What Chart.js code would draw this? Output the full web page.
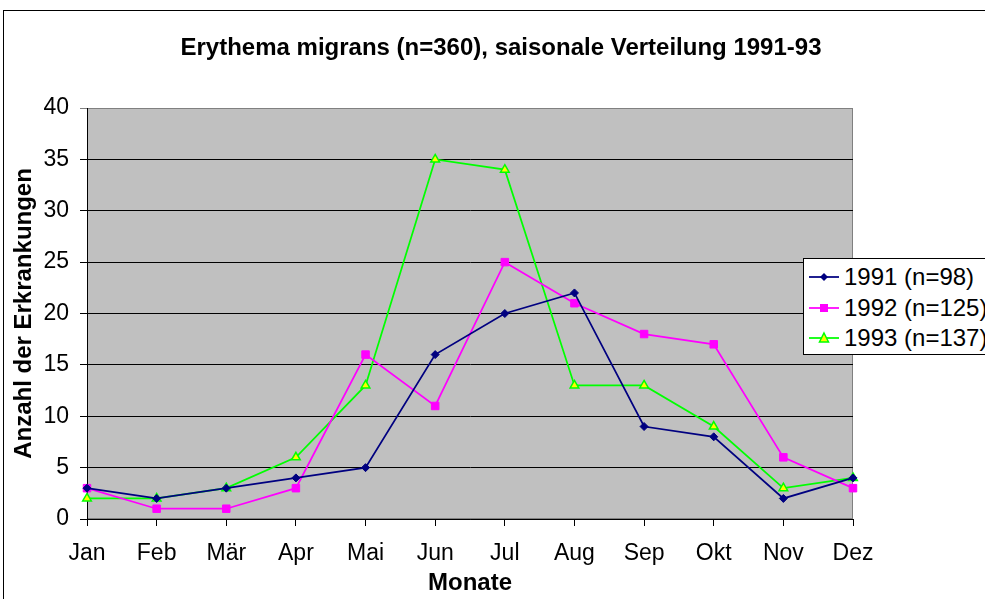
<!DOCTYPE html>
<html>
<head>
<meta charset="utf-8">
<script src="https://cdn.jsdelivr.net/npm/chart.js@4/dist/chart.umd.min.js"></script>
<style>
  html, body { margin: 0; padding: 0; background: #fff; overflow: hidden; }
  #wrap { position: relative; width: 985px; height: 599px; }
  #frame { position: absolute; left: 3px; top: 10px; width: 1000px; height: 600px; border: 1px solid #000; pointer-events: none; }
  #legend { position: absolute; left: 803px; top: 258px; width: 200px; height: 95px; border: 1px solid #000; background: #fff;
            font-family: 'Liberation Sans', Arial, sans-serif; font-size: 24px; color: #000; }
  .lg-row { position: absolute; left: 5px; height: 24px; line-height: 24px; display: flex; align-items: center; white-space: nowrap; }
  .lg-row svg { margin-right: 5px; }
</style>
</head>
<body>
<div id="wrap">
  <canvas id="chart" width="985" height="599"></canvas>
  <div id="frame"></div>
  <div id="legend"></div>
</div>
<script>
/* Erythema migrans – monthly counts 1991-93 */
const MONTHS = ['Jan', 'Feb', 'Mär', 'Apr', 'Mai', 'Jun', 'Jul', 'Aug', 'Sep', 'Okt', 'Nov', 'Dez'];
const SERIES_NAMES = ['1991 (n=98)', '1992 (n=125)', '1993 (n=137)'];
const Y1991 = [3, 2, 3, 4, 5, 16, 20, 22, 9, 8, 2, 4];
const Y1992 = [3, 1, 1, 3, 16, 11, 25, 21, 18, 17, 6, 3];
const Y1993 = [2, 2, 3, 6, 13, 35, 34, 13, 13, 9, 3, 4];
const Y_TICKS = [0, 5, 10, 15, 20, 25, 30, 35, 40];

const FONT = "'Liberation Sans', Arial, sans-serif";

/* plot area background + grey frame, like the old Excel look */
const plotBg = {
  id: 'plotBg',
  afterLayout(chart) {
    // title in the original is centred on the (cropped) outer frame, not the canvas
    const t = chart.titleBlock;
    if (t) { t.left = 17; t.right = 985; t.width = 968; }
  },
  beforeDraw(chart) {
    const { ctx, chartArea: a } = chart;
    ctx.save();
    ctx.fillStyle = '#c0c0c0';
    ctx.fillRect(a.left, a.top, a.right - a.left, a.bottom - a.top);
    ctx.strokeStyle = '#808080';
    ctx.lineWidth = 1;
    ctx.strokeRect(a.left + 0.5, a.top + 0.5, a.right - a.left - 1, a.bottom - a.top - 1);
    ctx.restore();
  },
};

const chart = new Chart(document.getElementById('chart'), {
  type: 'line',
  data: {
    labels: MONTHS,
    datasets: [
      {
        label: SERIES_NAMES[0], data: Y1991,
        borderColor: '#000080', backgroundColor: '#000080', borderWidth: 1.75,
        pointStyle: 'rectRot', pointRadius: 4, pointBorderWidth: 1,
      },
      {
        label: SERIES_NAMES[1], data: Y1992,
        borderColor: '#ff00ff', backgroundColor: '#ff00ff', borderWidth: 1.75,
        pointStyle: 'rect', pointRadius: 5.3, pointBorderWidth: 1,
      },
      {
        label: SERIES_NAMES[2], data: Y1993,
        borderColor: '#00ff00', backgroundColor: '#ffff00', borderWidth: 1.75,
        pointStyle: 'triangle', pointRadius: 5, pointBorderWidth: 1.5,
      },
    ],
  },
  options: {
    responsive: false,
    animation: false,
    layout: { padding: { left: 0, right: 132, top: 0, bottom: 0 } },
    plugins: {
      legend: { display: false },
      tooltip: { enabled: false },
      title: {
        display: true,
        text: 'Erythema migrans (n=360), saisonale Verteilung 1991-93',
        color: '#000',
        font: { family: FONT, size: 24, weight: 'bold', lineHeight: 1.2 },
        padding: { top: 34, bottom: 45.2 },
      },
    },
    scales: {
      x: {
        type: 'category',
        offset: false,
        afterFit(s) { s.height = 80; },
        grid: { drawOnChartArea: false, drawTicks: true, tickLength: 7, color: '#000' },
        border: { color: '#000', width: 1 },
        ticks: { color: '#000', font: { family: FONT, size: 23 }, padding: 14, maxRotation: 0, autoSkip: false },
        title: {
          display: true, text: 'Monate', color: '#000',
          font: { family: FONT, size: 24, weight: 'bold', lineHeight: 1.2 },
          padding: { top: 0, bottom: 1 },
        },
      },
      y: {
        min: 0, max: 40,
        afterFit(s) { s.width = 87; },
        afterBuildTicks(s) { s.ticks = Y_TICKS.map(v => ({ value: v })); },
        grid: {
          drawTicks: true, tickLength: 7,
          color: c => (c.tick && c.tick.value === 40 ? '#808080' : '#000'),
        },
        border: { color: '#000', width: 1 },
        ticks: { color: '#000', font: { family: FONT, size: 23 }, padding: 11 },
        title: {
          display: true, text: 'Anzahl der Erkrankungen', color: '#000',
          font: { family: FONT, size: 24, weight: 'bold', lineHeight: 1.2 },
          padding: { top: 10, bottom: 0 },
        },
      },
    },
  },
  plugins: [plotBg],
});

/* legend overlay, built from the datasets */
const legend = document.getElementById('legend');
chart.data.datasets.forEach((ds, i) => {
  const row = document.createElement('div');
  row.className = 'lg-row';
  row.style.top = (6 + i * 30.5) + 'px';
  let mark;
  if (ds.pointStyle === 'rectRot') mark = `<polygon points="15,5 19,9 15,13 11,9" fill="${ds.backgroundColor}"/>`;
  else if (ds.pointStyle === 'rect') mark = `<rect x="11" y="5" width="8" height="8" fill="${ds.backgroundColor}"/>`;
  else mark = `<polygon points="15,4 19.5,13 10.5,13" fill="${ds.backgroundColor}" stroke="${ds.borderColor}" stroke-width="1.5"/>`;
  row.innerHTML = `<svg width="30" height="18"><line x1="0" y1="9" x2="30" y2="9" stroke="${ds.borderColor}" stroke-width="1.75"/>${mark}</svg><span>${ds.label}</span>`;
  legend.appendChild(row);
});
</script>
</body>
</html>
